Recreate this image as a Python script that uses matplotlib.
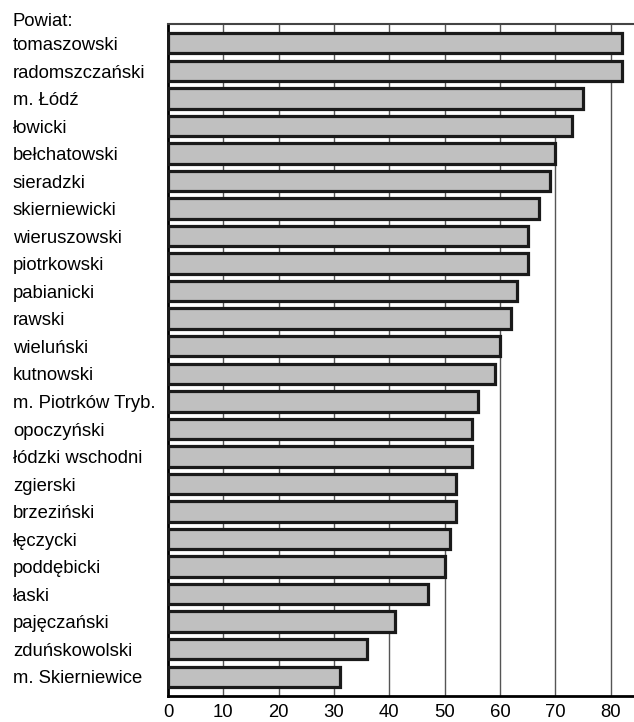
import matplotlib.pyplot as plt
import matplotlib.transforms as mtransforms

plt.rcParams['font.family'] = ['Liberation Sans', 'DejaVu Sans']

powiaty = ["tomaszowski", "radomszczański", "m. Łódź", "łowicki", "bełchatowski",
           "sieradzki", "skierniewicki", "wieruszowski", "piotrkowski", "pabianicki",
           "rawski", "wieluński", "kutnowski", "m. Piotrków Tryb.", "opoczyński",
           "łódzki wschodni", "zgierski", "brzeziński", "łęczycki", "poddębicki",
           "łaski", "pajęczański", "zduńskowolski", "m. Skierniewice"]
wartosci = [82, 82, 75, 73, 70, 69, 67, 65, 65, 63, 62, 60, 59, 56, 55, 55,
            52, 52, 51, 50, 47, 41, 36, 31]
xticks = [0, 10, 20, 30, 40, 50, 60, 70, 80]

W, H = 634, 722
fig = plt.figure(figsize=(W / 100, H / 100), dpi=100)
ax = fig.add_axes([168 / W, (H - 696) / H, (W - 168) / W, (696 - 24) / H])

pos = list(range(len(powiaty)))
ax.barh(pos, wartosci, height=0.74, color="#c0c0c0", edgecolor="#1a1a1a",
        linewidth=2.3, zorder=3)

ax.set_ylim(len(powiaty) - 0.3, -0.7)
ax.set_xlim(0, 84.2)
ax.set_xticks(xticks)
ax.set_xticklabels([str(t) for t in xticks], fontsize=13.3)
ax.set_yticks([])
ax.tick_params(axis="x", length=0, pad=6)
ax.grid(axis="x", color="#555555", linewidth=1.0, zorder=1)

ax.spines["right"].set_visible(False)
ax.spines["left"].set_linewidth(2.0)
ax.spines["bottom"].set_linewidth(2.0)
ax.spines["top"].set_linewidth(1.5)
ax.spines["top"].set_color("#444444")

trans = mtransforms.blended_transform_factory(fig.transFigure, ax.transData)
for i, name in enumerate(powiaty):
    ax.text(13 / W, i + 0.08, name, transform=trans, ha="left", va="center",
            fontsize=13.3, clip_on=False)
ax.text(13 / W, -0.8, "Powiat:", transform=trans, ha="left", va="center",
        fontsize=13.3, clip_on=False)

fig.savefig("out.png", dpi=100)
